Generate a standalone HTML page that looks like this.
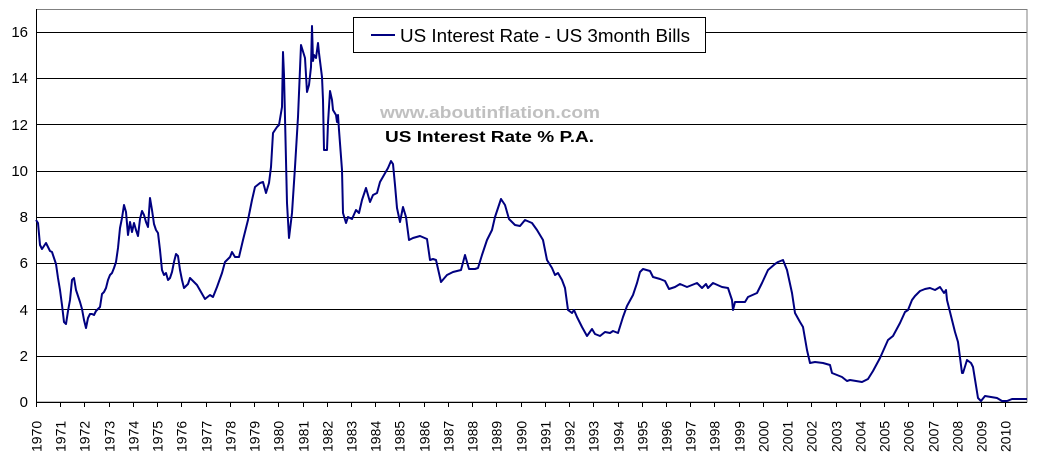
<!DOCTYPE html>
<html><head><meta charset="utf-8"><style>
html,body{margin:0;padding:0;background:#fff;}
svg{display:block;font-family:"Liberation Sans",Arial,sans-serif;}
</style></head><body>
<svg width="1046" height="461" viewBox="0 0 1046 461" xmlns="http://www.w3.org/2000/svg">
<rect x="0" y="0" width="1046" height="461" fill="#fff"/>
<g stroke="#000" stroke-width="1">
<line x1="36" y1="32.5" x2="1027" y2="32.5"/>
<line x1="36" y1="78.5" x2="1027" y2="78.5"/>
<line x1="36" y1="124.5" x2="1027" y2="124.5"/>
<line x1="36" y1="171.5" x2="1027" y2="171.5"/>
<line x1="36" y1="217.5" x2="1027" y2="217.5"/>
<line x1="36" y1="263.5" x2="1027" y2="263.5"/>
<line x1="36" y1="309.5" x2="1027" y2="309.5"/>
<line x1="36" y1="356.5" x2="1027" y2="356.5"/>
</g>
<rect x="36.5" y="9.5" width="990.5" height="392.5" fill="none" stroke="#808080" stroke-width="1"/>
<line x1="36.5" y1="9" x2="36.5" y2="402" stroke="#000"/>
<line x1="36" y1="402.5" x2="1027" y2="402.5" stroke="#000"/>
<g stroke="#000" id="ticks"></g>
<g font-size="15" text-anchor="end" fill="#000">
<text x="28" y="407">0</text><text x="28" y="361">2</text><text x="28" y="315">4</text><text x="28" y="268">6</text><text x="28" y="222">8</text><text x="28" y="176">10</text><text x="28" y="130">12</text><text x="28" y="83">14</text><text x="28" y="37">16</text>
</g>
<g id="xl" font-size="14" fill="#000"></g>
<polyline fill="none" stroke="#000080" stroke-width="2" stroke-linejoin="round" points="
36,220 38,223 40,245 42,249 44,246 46,243 48,247 50,251 52,252 54,258 56,264 58,278 60,290 62,305 64,322 66,324 68,311 70,300 72,280 74,278 76,290 78,296 80,302 82,309 84,320 86,328 88,318 90,314 92,314 94,315 96,311 98,309 100,307 102,294 104,292 106,288 108,280 110,275 112,273 114,268 116,262 118,248 120,228 122,218 124,205 126,212 128,235 130,222 132,232 134,223 136,230 138,236 140,219 142,211 144,215 146,222 148,227 150,198 152,210 154,224 156,230 158,233 160,250 162,270 164,275 166,273 168,280 170,278 172,272 174,262 176,254 178,256 180,270 182,280 184,288 186,286 188,284 190,278 197,285 205,299 210,295 213,297 217,287 222,273 225,262 230,257 232,252 235,257 239,257 243,240 248,220 252,200 255,187 260,183 263,182 266,193 269,183 271,167 273,133 277,127 279,125 282,107 283,52 284,75 287,203 289,238 292,213 295,167 298,117 301,45 305,58 307,92 309,85 311,67 312,26 313,61 314,55 316,58 318,43 319,53 322,77 323,100 324,150 327,150 328,123 330,91 332,100 333,110 336,115 337,122 338,115 339,130 342,170 343,213 346,223 348,217 352,219 356,210 359,213 362,200 366,188 370,202 373,195 377,193 380,182 384,175 388,168 391,161 393,164 395,185 397,208 400,222 403,207 406,217 409,240 413,238 420,236 427,239 430,260 433,259 436,260 441,282 447,275 453,272 461,270 465,255 469,269 475,269 478,268 482,255 487,240 492,230 495,217 501,199 505,205 509,219 515,225 520,226 525,220 532,223 537,230 543,240 547,260 552,268 555,275 558,273 562,280 565,288 568,310 572,313 574,310 577,317 582,327 587,336 592,329 595,334 600,336 605,332 610,333 613,331 618,333 623,317 627,306 633,295 637,283 640,272 643,269 650,271 653,277 660,279 665,281 669,289 675,287 680,284 687,287 697,283 702,288 706,284 708,288 713,283 722,287 728,288 732,300 733,310 735,302 745,302 748,297 757,293 762,283 768,270 775,264 778,262 783,260 787,270 792,293 795,313 800,322 803,327 807,350 810,363 815,362 823,363 830,365 832,373 842,377 847,381 850,380 862,382 868,379 873,371 880,358 888,340 893,336 900,323 905,312 908,310 912,300 915,296 920,291 925,289 930,288 935,290 940,287 944,293 946,290 947,300 950,312 955,332 958,342 962,373 963,373 967,360 971,363 973,367 978,398 981,401 985,396 997,398 1002,401 1007,401 1012,399 1027,399"/>
<rect x="353.5" y="17.5" width="352" height="35" fill="#fff" stroke="#000"/>
<line x1="371" y1="35" x2="395" y2="35" stroke="#000080" stroke-width="2"/>
<text x="400" y="42" font-size="18" textLength="290" lengthAdjust="spacingAndGlyphs">US Interest Rate - US 3month Bills</text>
<text x="380" y="118" font-size="17" font-weight="bold" fill="#c0c0c0" textLength="220" lengthAdjust="spacingAndGlyphs">www.aboutinflation.com</text>
<text x="385" y="142" font-size="16" font-weight="bold" fill="#000" textLength="209" lengthAdjust="spacingAndGlyphs">US Interest Rate % P.A.</text>
<script>
var t=document.getElementById('ticks'),xl=document.getElementById('xl'),ns='http://www.w3.org/2000/svg';
for(var i=0;i<=40;i++){var x=Math.round(36+i*24.23)+0.5;
var l=document.createElementNS(ns,'line');l.setAttribute('x1',x);l.setAttribute('x2',x);l.setAttribute('y1',402);l.setAttribute('y2',407);t.appendChild(l);
var tx=document.createElementNS(ns,'text');tx.setAttribute('transform','translate('+(x+5)+',452) rotate(-90)');tx.textContent=1970+i;xl.appendChild(tx);}
</script>
</svg>
</body></html>
